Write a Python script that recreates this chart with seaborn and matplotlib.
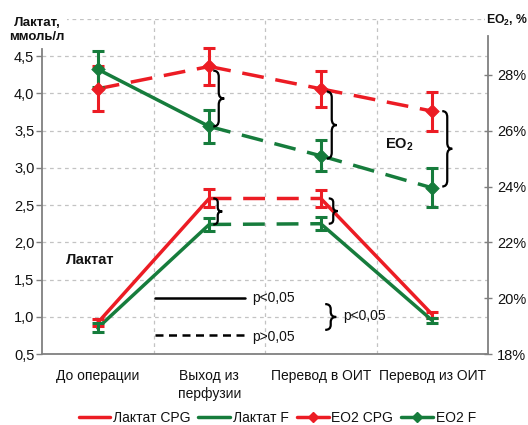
import numpy as np
import pandas as pd
import matplotlib
matplotlib.use("Agg")
import matplotlib.pyplot as plt
from matplotlib.path import Path
from matplotlib.patches import PathPatch
from matplotlib.lines import Line2D
from matplotlib.ticker import FixedLocator, FuncFormatter
import seaborn as sns

# ---- data -------------------------------------------------------------
stages = ["До операции", "Выход из\nперфузии", "Перевод в ОИТ", "Перевод из ОИТ"]

lactate_cpg = [0.92, 2.59, 2.59, 1.03]
lactate_cpg_err = [0.05, 0.12, 0.11, 0.04]
lactate_f = [0.85, 2.24, 2.25, 0.95]
lactate_f_err = [0.06, 0.09, 0.09, 0.04]

eo2_cpg = [27.5, 28.3, 27.5, 26.7]
eo2_cpg_err = [0.8, 0.65, 0.65, 0.7]
eo2_f = [28.2, 26.15, 25.1, 23.95]
eo2_f_err = [0.65, 0.6, 0.55, 0.7]

# significance of the change between consecutive stages
lactate_cpg_sig = ["p<0,05", "p>0,05", "p<0,05"]
lactate_f_sig = ["p<0,05", "p>0,05", "p<0,05"]
eo2_cpg_sig = ["p>0,05", "p>0,05", "p>0,05"]
eo2_f_sig = ["p<0,05", "p>0,05", "p>0,05"]

RED = "#EC1C24"
GREEN = "#167C3C"
GRID = "#C3C3C3"
SPINE = "#808080"

# ---- style ------------------------------------------------------------
sns.set_style("white")
plt.rcParams["font.family"] = ["Liberation Sans", "DejaVu Sans"]
plt.rcParams["mathtext.fontset"] = "custom"
plt.rcParams["mathtext.rm"] = "Liberation Sans"
plt.rcParams["mathtext.bf"] = "Liberation Sans:bold"
plt.rcParams["mathtext.it"] = "Liberation Sans:italic"
plt.rcParams["text.color"] = "#111111"
plt.rcParams["xtick.color"] = SPINE
plt.rcParams["ytick.color"] = SPINE
plt.rcParams["xtick.labelcolor"] = "#111111"
plt.rcParams["ytick.labelcolor"] = "#111111"


def segment_frame(name, values, sig):
    rows = []
    for i, s in enumerate(sig):
        for j in (i, i + 1):
            rows.append({"series": name, "seg": f"{name}-{i}", "x": j,
                         "value": values[j], "sig": s})
    return rows


lac_df = pd.DataFrame(segment_frame("Лактат CPG", lactate_cpg, lactate_cpg_sig)
                      + segment_frame("Лактат F", lactate_f, lactate_f_sig))
eo2_df = pd.DataFrame(segment_frame("EO2 CPG", eo2_cpg, eo2_cpg_sig)
                      + segment_frame("EO2 F", eo2_f, eo2_f_sig))

palette = {"Лактат CPG": RED, "Лактат F": GREEN, "EO2 CPG": RED, "EO2 F": GREEN}
dashes = {"p<0,05": "", "p>0,05": (6.3, 3.4)}
LW = 2.5

fig = plt.figure(figsize=(5.28, 4.25), dpi=100)
ax = fig.add_axes([42 / 528, 71 / 425, 446 / 528, 335 / 425])
ax2 = ax.twinx()

# lactate (left axis)
sns.lineplot(data=lac_df, x="x", y="value", hue="series", style="sig",
             units="seg", estimator=None, sort=False, palette=palette,
             dashes=dashes, linewidth=LW, legend=False, ax=ax)
xs = np.arange(len(stages))
for vals, errs, col in [(lactate_cpg, lactate_cpg_err, RED),
                        (lactate_f, lactate_f_err, GREEN)]:
    ax.errorbar(xs, vals, yerr=errs, fmt="none", ecolor=col,
                elinewidth=2.2, capsize=4.5, capthick=2.2, zorder=3)

# EO2 (right axis)
sns.lineplot(data=eo2_df, x="x", y="value", hue="series", style="sig",
             units="seg", estimator=None, sort=False, palette=palette,
             dashes=dashes, linewidth=LW, legend=False, ax=ax2)
for vals, errs, col in [(eo2_cpg, eo2_cpg_err, RED),
                        (eo2_f, eo2_f_err, GREEN)]:
    ax2.errorbar(xs, vals, yerr=errs, fmt="none", ecolor=col,
                 elinewidth=2.2, capsize=4.5, capthick=2.2, zorder=3)
    sns.scatterplot(x=xs, y=vals, marker="D", s=48, color=col,
                    edgecolor=col, linewidth=0.5, ax=ax2, zorder=4)

# ---- axes -------------------------------------------------------------
ax.set_xlim(-0.5, 3.5)
ax.set_ylim(0.5, 5.0)
ax2.set_ylim(18, 30)

ax.set_xticks(xs)
ax.set_xticklabels(stages, fontsize=10, linespacing=1.35)
ax.xaxis.set_minor_locator(FixedLocator([0.5, 1.5, 2.5]))
ax.tick_params(axis="x", which="major", length=0, pad=11)
ax.tick_params(axis="x", which="minor", length=5, width=1.0, direction="out")

ax.set_yticks(np.arange(0.5, 5.01, 0.5))
ax.yaxis.set_major_formatter(FuncFormatter(
    lambda v, p: "" if v > 4.75 else f"{v:.1f}".replace(".", ",")))
ax.tick_params(axis="y", labelsize=10.5, length=4, width=1.0,
               direction="out", pad=1.5)

ax2.set_yticks(np.arange(18, 30.1, 2))
ax2.yaxis.set_major_formatter(FuncFormatter(
    lambda v, p: "" if v > 29 else f"{v:.0f}%"))
ax2.tick_params(axis="y", labelsize=10.5, length=6, width=1.0,
                direction="inout", pad=3.5)

ax.set_xlabel("")
ax.set_ylabel("")
ax2.set_ylabel("")

ax.grid(axis="y", which="major", color=GRID, linestyle=(0, (3, 3)), linewidth=0.9)
ax.grid(axis="x", which="minor", color=GRID, linestyle=(0, (3, 3)), linewidth=0.9)
ax2.grid(False)

for a in (ax, ax2):
    a.spines["top"].set_visible(False)
ax.spines["right"].set_visible(False)
for s in ("left", "bottom"):
    ax2.spines[s].set_visible(False)
for sp in (ax.spines["left"], ax.spines["bottom"], ax2.spines["right"]):
    sp.set_color(SPINE)
    sp.set_linewidth(1.3)
ax.spines["left"].set_bounds(0.5, 4.6)
ax2.spines["right"].set_bounds(18, 29.4)

# ---- braces -----------------------------------------------------------
def brace(axis, trans, x, y_top, y_bot, dx=5, width=9, r=5):
    """Curly brace opening to the left, sized in pixels."""
    x_px, top = trans.transform((x, y_top))
    _, bot = trans.transform((x, y_bot))
    x0 = x_px + dx
    xm = x0 + width * 0.5
    x1 = x0 + width
    ym = (top + bot) / 2
    verts = [(x0, top), (xm, top), (xm, top - r), (xm, ym + r), (xm, ym), (x1, ym),
             (x1, ym), (xm, ym), (xm, ym - r), (xm, bot + r), (xm, bot), (x0, bot)]
    codes = [Path.MOVETO, Path.CURVE3, Path.CURVE3, Path.LINETO, Path.CURVE3, Path.CURVE3,
             Path.MOVETO, Path.CURVE3, Path.CURVE3, Path.LINETO, Path.CURVE3, Path.CURVE3]
    data_verts = trans.inverted().transform(verts)
    axis.add_patch(PathPatch(Path(data_verts, codes), facecolor="none",
                             edgecolor="black", linewidth=1.6,
                             transform=trans, zorder=6, clip_on=False))


# group differences for EO2 (right axis) and lactate (left axis)
brace(ax2, ax2.transData, 1, eo2_cpg[1] - 0.15, eo2_f[1], dx=4, width=11, r=6)
brace(ax2, ax2.transData, 2, eo2_cpg[2] - 0.1, eo2_f[2] - 0.1, dx=6, width=10, r=6)
brace(ax2, ax2.transData, 3, eo2_cpg[3], eo2_f[3] + 0.05, dx=10, width=10, r=6)
brace(ax, ax.transData, 1, lactate_cpg[1], lactate_f[1], dx=4, width=9, r=4)
brace(ax, ax.transData, 2, lactate_cpg[2], lactate_f[2], dx=8, width=9, r=4)

# ---- annotations --------------------------------------------------------
ax.plot([0.253, 0.455], [0.167, 0.167], color="black", lw=1.8,
        transform=ax.transAxes, zorder=6)
ax.plot([0.253, 0.455], [0.057, 0.057], color="black", lw=1.8,
        linestyle=(0, (3.2, 2.2)), transform=ax.transAxes, zorder=6)
ax.text(0.471, 0.167, "p<0,05", transform=ax.transAxes, fontsize=10,
        va="center", ha="left")
ax.text(0.471, 0.050, "p>0,05", transform=ax.transAxes, fontsize=10,
        va="center", ha="left")
brace(ax, ax.transAxes, 0.635, 0.149, 0.072, dx=0, width=11, r=5)
ax.text(0.675, 0.112, "p<0,05", transform=ax.transAxes, fontsize=10,
        va="center", ha="left")

ax.text(0.054, 0.281, "Лактат", transform=ax.transAxes, fontsize=10.5,
        fontweight="bold", va="center", ha="left")
ax2.text(0.769, 0.624, r"EO$_\mathbf{2}$", transform=ax.transAxes, fontsize=10.5,
         fontweight="bold", va="center", ha="left")

fig.text(37 / 528, (425 - 30) / 425, "Лактат,\nммоль/л", fontsize=9.5,
         fontweight="bold", ha="center", va="center", linespacing=1.25,
         bbox=dict(facecolor="white", edgecolor="none", pad=1.5), zorder=10)
fig.text(486 / 528, (425 - 20) / 425, r"EO$_\mathbf{2}$, %", fontsize=8.8,
         fontweight="bold", ha="left", va="center",
         bbox=dict(facecolor="white", edgecolor="none", pad=0.5), zorder=10)

# ---- legend -------------------------------------------------------------
handles = [
    Line2D([], [], color=RED, lw=LW),
    Line2D([], [], color=GREEN, lw=LW),
    Line2D([], [], color=RED, lw=LW, marker="D", markersize=5),
    Line2D([], [], color=GREEN, lw=LW, marker="D", markersize=5),
]
labels = ["Лактат CPG", "Лактат F", "EO2 CPG", "EO2 F"]
fig.legend(handles, labels, loc="lower center", ncol=4, frameon=False,
           bbox_to_anchor=(0.525, -0.03), fontsize=10, handlelength=2.3,
           handletextpad=0.2, columnspacing=0.55)

fig.savefig("out.png", dpi=100)
